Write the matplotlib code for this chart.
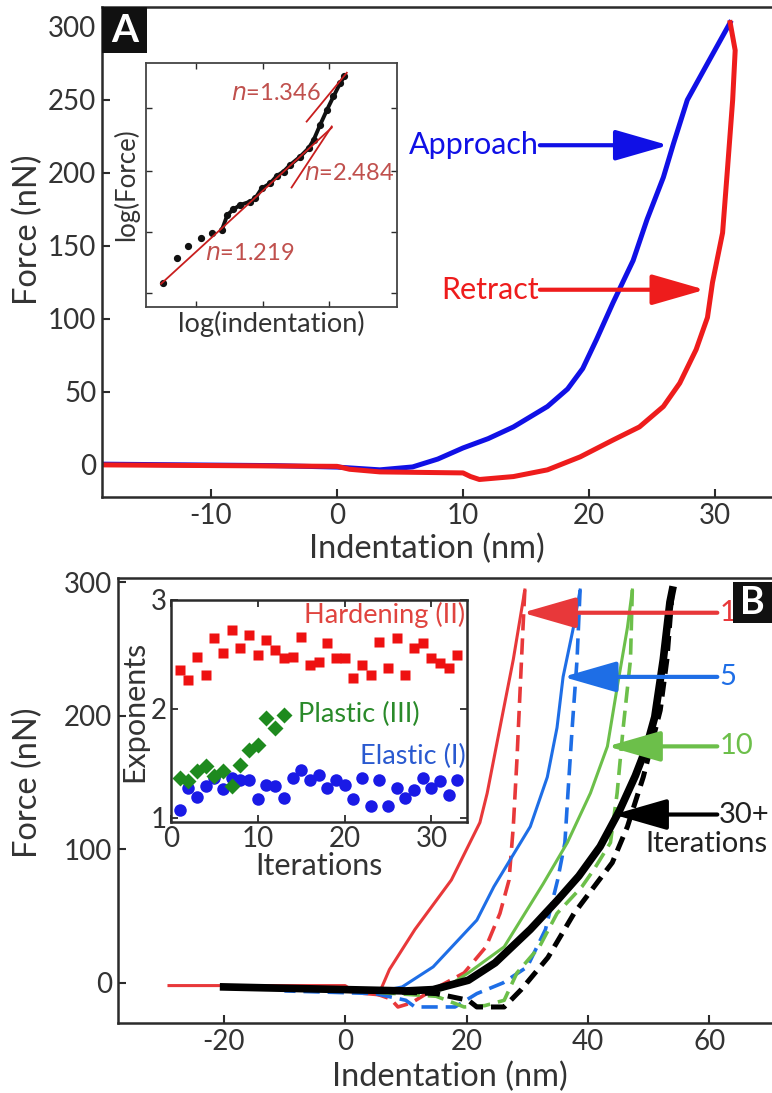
import matplotlib
matplotlib.use('Agg')
import matplotlib.pyplot as plt
from matplotlib.patches import Rectangle

plt.rcParams['font.family'] = ['Lato', 'DejaVu Sans']
plt.rcParams['axes.unicode_minus'] = False

# ---------------- Panel A data ----------------
a_app_x = [-18.6, -5, 0, 3.4, 6.0, 8, 10, 12, 14, 16.7, 18.3, 19.5, 20.6, 21.9, 23.5, 24.6, 25.9, 26.7, 27.8, 29.4, 31.2]
a_app_f = [0.5, -0.5, -1.5, -3.4, -1.4, 4, 11.6, 18, 26, 40, 52, 66, 86, 111, 140, 168, 197, 220, 250, 275, 303]
a_ret_x = [31.2, 31.6, 31.4, 31.0, 30.6, 29.8, 29.4, 28.5, 27.2, 25.9, 24.0, 21.9, 19.3, 16.7, 14, 11.3, 10.6, 10, 3.4, 1, 0, -18.6]
a_ret_f = [303, 284, 250, 204, 159, 125, 101, 79, 56, 40, 26, 17, 5.5, -3.4, -8, -10, -8, -5.5, -4.8, -3, -1, 0]

# inset A (log-log, normalised units)
ia_x = [0.066, 0.122, 0.169, 0.218, 0.262, 0.302, 0.324, 0.348, 0.375, 0.415, 0.435, 0.461, 0.495,
        0.521, 0.548, 0.574, 0.614, 0.648, 0.668, 0.694, 0.721, 0.747, 0.774, 0.790]
ia_y = [0.100, 0.199, 0.249, 0.281, 0.304, 0.315, 0.377, 0.400, 0.418, 0.432, 0.445, 0.486, 0.507,
        0.537, 0.555, 0.582, 0.616, 0.651, 0.685, 0.747, 0.808, 0.863, 0.918, 0.945]
fit_labels = ['n=1.219', 'n=2.484', 'n=1.346']
fit1_x = [0.06, 0.74]; fit1_y = [0.095, 0.735]
fit2_x = [0.58, 0.74]; fit2_y = [0.49, 0.74]
fit3_x = [0.64, 0.80]; fit3_y = [0.76, 0.96]

# ---------------- Panel B data ----------------
b1_app_x = [-29, -10, 0, 1, 3, 5.5, 7.3, 11.5, 17.5, 22.2, 23.4, 25.5, 27.7, 29.6]
b1_app_f = [-2, -2, -2, -5, -8, -9, 10, 40, 77, 120, 142, 191, 242, 294]
b1_ret_x = [29.6, 29.3, 28.8, 28.3, 27.7, 27.0, 25.5, 23.2, 19.6, 14.5, 10.9, 8.7, 7.5, 5, 0, -10]
b1_ret_f = [294, 266, 217, 167, 117, 77, 52, 27, 7.5, -5, -15, -18, -12, -8, -6, -4]

b5_app_x = [-20, 0, 5, 9.4, 14.5, 21.7, 24.5, 30.5, 33.3, 34.9, 35.9, 37.6, 38.7]
b5_app_f = [-3, -4, -7, -3, 12, 47, 72, 117, 154, 191, 229, 266, 294]
b5_ret_x = [38.7, 38.2, 37.4, 36.7, 36.2, 35.0, 33.0, 30.0, 26.0, 21.7, 18.1, 11.5, 10, 5, -10]
b5_ret_f = [294, 242, 191, 142, 105, 77, 40, 12, 0, -8, -18, -18, -13, -8, -6]

b10_app_x = [-15, 0, 10, 16, 20.3, 26.2, 32.6, 36.6, 40.4, 43.2, 44.8, 46.5, 47.3]
b10_app_f = [-3, -5, -7, -5, 7.5, 27, 74, 105, 142, 177, 221, 266, 294]
b10_ret_x = [47.3, 47.0, 45.8, 44.8, 43.7, 41.0, 39.0, 34.9, 32.0, 28.3, 26.2, 23, 19.6, 15, 5]
b10_ret_f = [294, 242, 191, 142, 105, 85, 72, 52, 27, 7.5, -13, -17, -18, -10, -7]

b30_app_x = [-20, 0, 10, 14.5, 20.3, 24.7, 30.5, 35.0, 38.5, 42.0, 45.2, 47.8, 49.6, 51.0, 52.4, 53.5, 53.9]
b30_app_f = [-3, -5, -6, -5, 2, 15, 40, 62, 80, 102, 129, 155, 176, 199, 242, 285, 294]
b30_ret_x = [53.9, 53.0, 51.9, 49.1, 46.5, 44.0, 42.0, 37.7, 33.4, 29.0, 26.2, 21.7, 20.3, 15, 5]
b30_ret_f = [294, 242, 204, 154, 117, 90, 78, 52, 19, -5, -18, -18, -13, -8, -6]

# inset B: exponents per iteration
iter_hard = list(range(1, 34))
exp_hard = [2.358, 2.266, 2.480, 2.312, 2.648, 2.511, 2.725, 2.557, 2.679, 2.495, 2.633, 2.541, 2.465,
            2.480, 2.664, 2.404, 2.434, 2.602, 2.465, 2.465, 2.281, 2.404, 2.312, 2.618, 2.373, 2.648,
            2.312, 2.557, 2.602, 2.465, 2.419, 2.373, 2.495]
iter_plas = list(range(1, 14))
exp_plas = [1.364, 1.333, 1.425, 1.471, 1.379, 1.425, 1.287, 1.486, 1.624, 1.670, 1.914, 1.823, 1.945]
iter_elas = list(range(1, 34))
exp_elas = [1.073, 1.272, 1.190, 1.287, 1.364, 1.263, 1.364, 1.349, 1.349, 1.171, 1.303, 1.287, 1.180,
            1.364, 1.440, 1.349, 1.394, 1.272, 1.349, 1.303, 1.171, 1.364, 1.110, 1.349, 1.110, 1.272,
            1.180, 1.257, 1.364, 1.272, 1.333, 1.211, 1.349]

W, H = 772, 1093
fig = plt.figure(figsize=(W / 100, H / 100), dpi=100)

def fx(px):
    return px / W

def fy(py):
    return 1 - py / H

SPINE = '#2b2b2b'
TICKFS = 20
LABFS = 23.5

def style(ax, fs=TICKFS):
    for s in ax.spines.values():
        s.set_color(SPINE)
        s.set_linewidth(1.8)
    ax.tick_params(direction='in', length=6, width=1.5, colors=SPINE, labelsize=fs,
                   labelcolor='#333333', pad=4)

# ---------------- Panel A ----------------
axA = fig.add_axes([fx(102), fy(497), fx(775 - 102), (497 - 7) / H])
style(axA)
axA.spines['right'].set_visible(False)
BLUE_A = '#1010e6'
RED_A = '#ee1c1c'
axA.plot(a_app_x, a_app_f, color=BLUE_A, lw=3.6, solid_joinstyle='round')
axA.plot(a_ret_x, a_ret_f, color=RED_A, lw=3.6, solid_joinstyle='round')
axA.set_xlim(-18.65, 34.76)
axA.set_ylim(-22, 313.7)
axA.set_xticks([-10, 0, 10, 20, 30])
axA.set_yticks([0, 50, 100, 150, 200, 250, 300])

def arrow(ax, tail, tip, color, lw=3, hl=3.3, hw=0.95, ms=10):
    ax.annotate('', xy=tip, xytext=tail,
                arrowprops=dict(arrowstyle=f'-|>,head_length={hl},head_width={hw}',
                                color=color, lw=lw, mutation_scale=ms,
                                shrinkA=0, shrinkB=0))

axA.text(16.0, 219, 'Approach', color=BLUE_A, fontsize=22, ha='right', va='center')
arrow(axA, (16.1, 219), (26.3, 219), BLUE_A)
axA.text(16.0, 120, 'Retract', color=RED_A, fontsize=22, ha='right', va='center')
arrow(axA, (16.1, 120), (29.2, 120), RED_A)

fig.text(fx(28), fy(230), 'Force (nN)', rotation=90, ha='center', va='center', fontsize=LABFS, color='#333')
fig.text(fx(427), fy(549), 'Indentation (nm)', ha='center', va='center', fontsize=LABFS, color='#333')

fig.add_artist(Rectangle((fx(102), fy(53)), fx(45), 46 / H, transform=fig.transFigure,
                         facecolor='#111111', edgecolor='none', zorder=5))
fig.text(fx(124.5), fy(31), 'A', ha='center', va='center', fontsize=28, fontweight='bold',
         color='white', zorder=6)

# inset A
iaA = fig.add_axes([fx(146), fy(307), fx(397 - 146), (307 - 63) / H])
style(iaA)
for s in iaA.spines.values():
    s.set_color('#444')
    s.set_linewidth(1.3)
iaA.tick_params(length=4, width=1, top=True, right=True, labelbottom=False, labelleft=False)
iaA.set_xlim(0, 1)
iaA.set_ylim(0, 1)
iaA.set_xticks([0.2, 0.465, 0.73])
iaA.set_yticks([0.057, 0.307, 0.557, 0.816])
FITC = '#c81e1e'
TXTC = '#c0504d'
iaA.plot(ia_x[5:], ia_y[5:], color='#111', lw=2.8, zorder=3)
iaA.plot(ia_x, ia_y, 'o', color='#111', ms=4.2, zorder=3)
iaA.plot(fit1_x, fit1_y, color=FITC, lw=1.3, zorder=4)
iaA.plot(fit2_x, fit2_y, color=FITC, lw=1.3, zorder=4)
iaA.plot(fit3_x, fit3_y, color=FITC, lw=1.3, zorder=4)
iaA.text(0.235, 0.219, '$n$=1.219', color=TXTC, fontsize=17, ha='left', va='center')
iaA.text(0.63, 0.548, '$n$=2.484', color=TXTC, fontsize=17, ha='left', va='center')
iaA.text(0.34, 0.877, '$n$=1.346', color=TXTC, fontsize=17, ha='left', va='center')
iaA.set_ylabel('log(Force)', fontsize=18.5, color='#333', labelpad=5)
iaA.set_xlabel('log(indentation)', fontsize=19.5, color='#333', labelpad=3)

# ---------------- Panel B ----------------
axB = fig.add_axes([fx(118), fy(1023), fx(775 - 118), (1023 - 578) / H])
style(axB)
axB.spines['right'].set_visible(False)
RED_B = '#e8383a'
BLUE_B = '#1e6ee6'
GREEN_B = '#6cbf4a'
BLACK_B = '#000000'
dash = (0, (4.5, 2.2))
axB.plot(b1_app_x, b1_app_f, color=RED_B, lw=2.2)
axB.plot(b1_ret_x, b1_ret_f, color=RED_B, lw=2.6, linestyle=dash)
axB.plot(b5_app_x, b5_app_f, color=BLUE_B, lw=2.2)
axB.plot(b5_ret_x, b5_ret_f, color=BLUE_B, lw=2.6, linestyle=dash)
axB.plot(b10_app_x, b10_app_f, color=GREEN_B, lw=2.2)
axB.plot(b10_ret_x, b10_ret_f, color=GREEN_B, lw=2.6, linestyle=dash)
axB.plot(b30_ret_x, b30_ret_f, color=BLACK_B, lw=3.6, linestyle=(0, (3, 1.6)))
axB.plot(b30_app_x, b30_app_f, color=BLACK_B, lw=5.5)
axB.set_xlim(-37.4, 70.8)
axB.set_ylim(-30, 303)
axB.set_xticks([-20, 0, 20, 40, 60])
axB.set_yticks([0, 100, 200, 300])

ANNFS = 21
arrow(axB, (61.3, 277), (29.2, 277), RED_B)
axB.text(61.6, 277, '1', color=RED_B, fontsize=ANNFS, ha='left', va='center')
arrow(axB, (61.3, 229), (35.9, 229), BLUE_B)
axB.text(61.6, 229, '5', color=BLUE_B, fontsize=ANNFS, ha='left', va='center')
arrow(axB, (61.3, 177), (43.2, 177), GREEN_B)
axB.text(61.6, 177, '10', color=GREEN_B, fontsize=ANNFS, ha='left', va='center')
arrow(axB, (61.3, 126), (44.2, 126), BLACK_B)
axB.text(61.6, 126, '30+', color='#222', fontsize=ANNFS, ha='left', va='center')
axB.text(59.5, 104, 'Iterations', color='#222', fontsize=ANNFS, ha='center', va='center')

fig.text(fx(28), fy(783), 'Force (nN)', rotation=90, ha='center', va='center', fontsize=LABFS, color='#333')
fig.text(fx(450), fy(1077), 'Indentation (nm)', ha='center', va='center', fontsize=LABFS, color='#333')

fig.add_artist(Rectangle((fx(733), fy(623)), fx(40), 41 / H, transform=fig.transFigure,
                         facecolor='#111111', edgecolor='none', zorder=5))
fig.text(fx(752.5), fy(602.5), 'B', ha='center', va='center', fontsize=27, fontweight='bold',
         color='white', zorder=6)

# inset B
iaB = fig.add_axes([fx(171), fy(822), fx(467 - 171), (822 - 600) / H])
style(iaB)
iaB.tick_params(length=5, width=1.3, top=True, right=True, pad=3)
iaB.set_xlim(0, 34.1)
iaB.set_ylim(0.96, 3.0)
iaB.set_xticks([0, 10, 20, 30])
iaB.set_yticks([1, 2, 3])
iaB.plot(iter_hard, exp_hard, 's', color='#ee1111', ms=7.5, mec='none', clip_on=False)
iaB.plot(iter_elas, exp_elas, 'o', color='#1a1ae6', ms=9, mec='none', clip_on=False)
iaB.plot(iter_plas, exp_plas, 'D', color='#1e8a1e', ms=8, mec='none', clip_on=False)
iaB.text(33.9, 2.86, 'Hardening (II)', color='#e0443f', fontsize=19.5, ha='right', va='center')
iaB.text(14.6, 1.95, 'Plastic (III)', color='#2a8a2a', fontsize=19.5, ha='left', va='center')
iaB.text(33.9, 1.56, 'Elastic (I)', color='#2a5ad0', fontsize=19.5, ha='right', va='center')
iaB.set_ylabel('Exponents', fontsize=22, color='#333', labelpad=2)
iaB.set_xlabel('Iterations', fontsize=22, color='#333', labelpad=0)

fig.savefig('out.png', dpi=100)
